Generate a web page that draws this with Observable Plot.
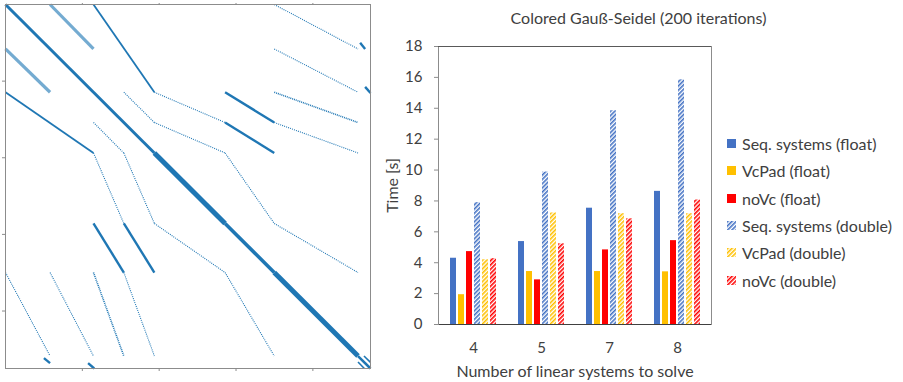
<!DOCTYPE html>
<html>
<head>
<meta charset="utf-8">
<script src="https://cdn.jsdelivr.net/npm/d3@7"></script>
<script src="https://cdn.jsdelivr.net/npm/@observablehq/plot@0.6"></script>
<style>
  body { margin: 0; background: #fff; }
  #root { position: relative; width: 903px; height: 382px; overflow: hidden; font-family: Lato, "Open Sans", sans-serif; color: #404040; background: #fff; }
  #root > * { position: absolute; }
  #title { left: 380px; width: 517px; top: 8px; text-align: center; font-size: 16px; line-height: 19px; white-space: nowrap; }
  #legend { left: 727px; top: 130px; font-size: 16px; }
  .lrow { display: flex; align-items: center; height: 27.3px; white-space: nowrap; }
  .lrow svg { margin-right: 6px; }
</style>
</head>
<body>
<svg id="defs" width="0" height="0" style="position:absolute"><defs></defs></svg>
<div id="root"></div>
<script>
// ---------------- data: sparsity pattern (matrix indices) ----------------
const matrixSize = 9500;
const spyTicks = [2000, 4000, 6000, 8000];
// block boundaries of the symmetric matrix
const blockEdges = [0, 1160, 2290, 3080, 3875, 5715, 6995, 9175, 9500];
// diagonal pieces between these rows
const diagonalBreaks = [0, 3875, 5715, 6995, 9175, 9500];
// upper-triangle off-diagonal strips: [colStart, rowStart, colEnd, rowEnd]
const upperDenseStrips = [[1160, 0, 2290, 1160]];
const upperSolidStrips = [[2290, 0, 3875, 2290]];
const upperThickStrips = [[5715, 2290, 6995, 3080], [5715, 3080, 6995, 3875], [9230, 1000, 9360, 1160], [9360, 2150, 9500, 2310]];
const upperSparseStrips = [
  [3875, 2290, 5715, 3080], [6995, 0, 9175, 1160], [6995, 1160, 9175, 2290],
  [6995, 3080, 9175, 3875], [3080, 2290, 3875, 3080], [3875, 3080, 5715, 3875],
  [5715, 3875, 6995, 5715], [6995, 5715, 9175, 6995]
];
const upperSparseDoubleStrips = [[6995, 2290, 9175, 3080]];
const upperCornerStrips = [[9175, 9330, 9340, 9500]];

// ---------------- data: bar chart ----------------
const chartTitle = "Colored Gauß-Seidel (200 iterations)";
const categories = ["4", "5", "7", "8"];
const seriesNames = ["Seq. systems (float)", "VcPad (float)", "noVc (float)", "Seq. systems (double)", "VcPad (double)", "noVc (double)"];
const seqFloat = [4.29, 5.37, 7.53, 8.62];
const vcpadFloat = [1.93, 3.43, 3.43, 3.41];
const novcFloat = [4.72, 2.89, 4.83, 5.43];
const seqDouble = [7.89, 9.87, 13.84, 15.84];
const vcpadDouble = [4.19, 7.22, 7.17, 7.17];
const novcDouble = [4.26, 5.22, 6.84, 8.06];
const yTicks = [0, 2, 4, 6, 8, 10, 12, 14, 16, 18];
const xLabel = "Number of linear systems to solve";
const yLabel = "Time [s]";

// ---------------- styles ----------------
const baseColors = ["#4472C4", "#FFC000", "#FF0000"];
const seriesFills = ["#4472C4", "#FFC000", "#FF0000", "url(#hatch0)", "url(#hatch1)", "url(#hatch2)"];
const spyBlue = "#1f77b4";

// hatch patterns
const defs = d3.select("#defs defs");
baseColors.forEach((c, i) => {
  const p = defs.append("pattern").attr("id", "hatch" + i).attr("patternUnits", "userSpaceOnUse")
    .attr("width", 3).attr("height", 3).attr("patternTransform", "rotate(45)");
  p.append("rect").attr("width", 3).attr("height", 3).attr("fill", "#fff");
  p.append("rect").attr("width", 1.6).attr("height", 3).attr("fill", c);
});

const root = document.getElementById("root");

// ---------------- spy plot ----------------
const transpose = s => s.map(([a, b, c, d]) => [b, a, d, c]);
const sym = s => s.concat(transpose(s));
const diagPieces = d3.pairs(diagonalBreaks);
const diagWidths = [3, 5, 3.6, 5, 2.5];
const seg = {x1: d => d[0], y1: d => d[1], x2: d => d[2], y2: d => d[3], stroke: spyBlue, strokeLinecap: "butt"};

const spy = Plot.plot({
  width: 380, height: 382,
  marginLeft: 5, marginTop: 4, marginRight: 10, marginBottom: 14,
  x: {domain: [0, matrixSize], axis: null},
  y: {domain: [0, matrixSize], reverse: true, axis: null},
  style: {background: "transparent"},
  marks: [
    Plot.link(sym(upperDenseStrips), {...seg, strokeWidth: 3.2, strokeOpacity: 0.62}),
    Plot.link(sym(upperSolidStrips), {...seg, strokeWidth: 1.8}),
    Plot.link(sym(upperThickStrips), {...seg, strokeWidth: 2.4}),
    Plot.link(sym(upperSparseStrips), {...seg, strokeWidth: 1.1, strokeDasharray: "1,1.1"}),
    Plot.link(sym(upperSparseDoubleStrips), {...seg, strokeWidth: 1.6, strokeDasharray: "1,0.9"}),
    Plot.link(sym(upperCornerStrips), {...seg, strokeWidth: 1.6}),
    Plot.link(diagPieces, {x1: d => d[0], y1: d => d[0], x2: d => d[1], y2: d => d[1], stroke: spyBlue, strokeWidth: (d, i) => diagWidths[i]}),
    Plot.frame({stroke: "#8c8c8c"}),
    Plot.axisX(spyTicks, {anchor: "bottom", tickSize: 3, tickFormat: () => "", stroke: "#8c8c8c"}),
    Plot.axisX(spyTicks, {anchor: "top", tickSize: 2, tickFormat: () => "", stroke: "#8c8c8c"}),
    Plot.axisY(spyTicks, {anchor: "left", tickSize: 3, tickFormat: () => "", stroke: "#8c8c8c"})
  ]
});
spy.style.left = "0px"; spy.style.top = "0px";
root.appendChild(spy);

// ---------------- bar chart ----------------
const seriesValues = [seqFloat, vcpadFloat, novcFloat, seqDouble, vcpadDouble, novcDouble];
const rows = categories.flatMap((c, i) => seriesNames.map((s, j) => ({cat: c, series: s, value: seriesValues[j][i]})));
const dims = {width: 523, height: 382, marginLeft: 58, marginRight: 192, marginTop: 46, marginBottom: 58};
const font = {fontFamily: "Lato, 'Open Sans', sans-serif", fontSize: "15px", color: "#404040", background: "transparent"};

const base = Plot.plot({
  ...dims,
  style: font,
  x: {type: "band", domain: categories, padding: 0},
  y: {domain: [0, 18]},
  marks: [
    Plot.frame({stroke: "#8c8c8c"}),
    Plot.ruleY([18], {stroke: "#595959"}),
    Plot.axisY(yTicks, {anchor: "left", tickSize: 4, tickPadding: 12, fontSize: 15, stroke: "#8c8c8c",
      label: null}),
    Plot.axisY({anchor: "left", ticks: [], label: yLabel, labelAnchor: "center", labelOffset: 52, labelArrow: "none", fontSize: 16}),
    Plot.axisX({anchor: "bottom", tickSize: 0, tickPadding: 18, fontSize: 15, label: null}),
    Plot.axisX({anchor: "bottom", ticks: [], label: xLabel, labelAnchor: "center", labelOffset: 52, labelArrow: "none", fontSize: 16})
  ]
});
base.style.left = "380px"; base.style.top = "0px";
root.appendChild(base);

const bars = Plot.plot({
  ...dims,
  style: font,
  fx: {domain: categories, padding: 0, axis: null},
  x: {domain: seriesNames, paddingInner: 0.19, paddingOuter: 0.88, axis: null},
  y: {domain: [0, 18], axis: null},
  color: {domain: seriesNames, range: seriesFills},
  marks: [
    Plot.barY(rows, {fx: "cat", x: "series", y: "value", fill: "series"}),
    Plot.ruleY([0], {stroke: "#404040"})
  ]
});
bars.style.left = "380px"; bars.style.top = "0px";
root.appendChild(bars);

// title
const t = document.createElement("div");
t.id = "title"; t.textContent = chartTitle;
root.appendChild(t);

// legend
const lg = document.createElement("div");
lg.id = "legend";
seriesNames.forEach((s, i) => {
  const r = document.createElement("div");
  r.className = "lrow";
  r.innerHTML = `<svg width="9" height="9"><rect width="9" height="9" fill="${seriesFills[i]}"/></svg><span></span>`;
  r.querySelector("span").textContent = s;
  lg.appendChild(r);
});
root.appendChild(lg);
</script>
</body>
</html>
